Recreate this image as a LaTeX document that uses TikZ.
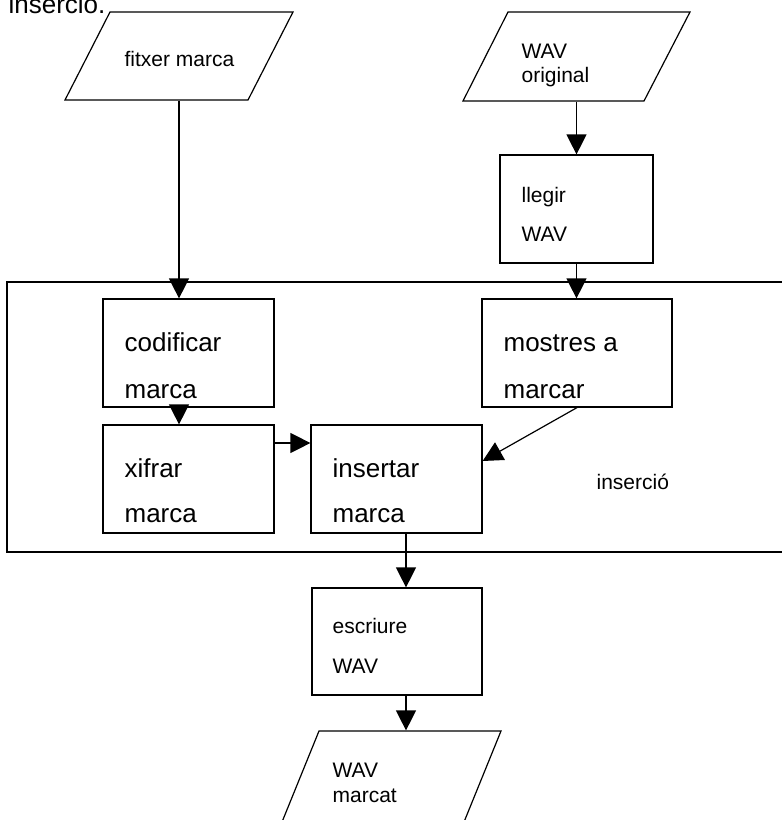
\documentclass[tikz,border=0pt]{standalone}
\usepackage{fontspec}
\setmainfont{Liberation Sans}
\usetikzlibrary{arrows.meta}
\begin{document}
\begin{tikzpicture}[x=1pt,y=-1pt,
  line width=1.2pt,
  big/.style={font=\fontsize{26}{30}\selectfont, anchor=base west, inner sep=0pt},
  small/.style={font=\fontsize{21}{24}\selectfont, anchor=base west, inner sep=0pt},
  proc/.style={draw, rectangle, inner sep=0pt},
  io/.style={rectangle, inner sep=0pt},
  arr/.style={-{Triangle[length=20pt,width=20pt]}}
]
\clip (0,0) rectangle (782,820);
% clipped heading
\node[big] (head) at (8,13) {inserció.};
% frame
\node[draw, rectangle, inner sep=0pt, minimum width=793, minimum height=270] (frame) at (403.5,417) {};
\node[small] (lab) at (596,489) {inserció};
% parallelograms (invisible bounding nodes + drawn outlines)
\node[io, minimum width=228, minimum height=88] (fm) at (179,56) {};
\draw (110,12) -- (293,12) -- (248,100) -- (65,100) -- cycle;
\node[small] (fmt) at (124,66) {fitxer marca};
\node[io, minimum width=227, minimum height=89] (wo) at (576.5,56.5) {};
\draw (508,12) -- (690,12) -- (644,101) -- (463,101) -- cycle;
\node[small] (wot1) at (521,58) {WAV};
\node[small] (wot2) at (521,82) {original};
\node[io, minimum width=227, minimum height=90] (wm) at (387.5,776) {};
\draw (319,731) -- (501,731) -- (464,822) -- (282,822) -- cycle;
\node[small] (wmt1) at (332,777) {WAV};
\node[small] (wmt2) at (332,802) {marcat};
% process boxes
\node[proc, minimum width=153, minimum height=108] (lle) at (576.5,209) {};
\node[small] (llet1) at (521,202) {llegir};
\node[small] (llet2) at (521,241) {WAV};
\node[proc, minimum width=171, minimum height=108] (cod) at (188.5,353) {};
\node[big] (codt1) at (124,351) {codificar};
\node[big] (codt2) at (124,398) {marca};
\node[proc, minimum width=190, minimum height=108] (mos) at (577,353) {};
\node[big] (most1) at (503,351) {mostres a};
\node[big] (most2) at (503,398) {marcar};
\node[proc, minimum width=171, minimum height=108] (xif) at (188.5,479) {};
\node[big] (xift1) at (124,477) {xifrar};
\node[big] (xift2) at (124,522) {marca};
\node[proc, minimum width=171, minimum height=108] (ins) at (396.5,479) {};
\node[big] (inst1) at (332,477) {insertar};
\node[big] (inst2) at (332,522) {marca};
\node[proc, minimum width=170, minimum height=107] (esc) at (397,641.5) {};
\node[small] (esct1) at (332,633) {escriure};
\node[small] (esct2) at (332,673) {WAV};
% connectors
\draw[arr] (fm.south) -- (fm.south |- cod.north);
\draw[arr] (wo.south) -- (wo.south |- lle.north);
\draw[arr] (lle.south) -- (lle.south |- mos.north);
\draw[arr] (cod.south -| fm.south) -- (fm.south |- xif.north);
\draw[arr] ([yshift=36pt]xif.east) -- ([yshift=36pt]ins.west);
\draw[arr] (mos.south) -- ([yshift=18pt]ins.east);
\coordinate (dx) at (406,0);
\draw[arr] (dx |- ins.south) -- (dx |- esc.north);
\draw[arr] (dx |- esc.south) -- (dx |- wm.north);
\end{tikzpicture}
\end{document}
